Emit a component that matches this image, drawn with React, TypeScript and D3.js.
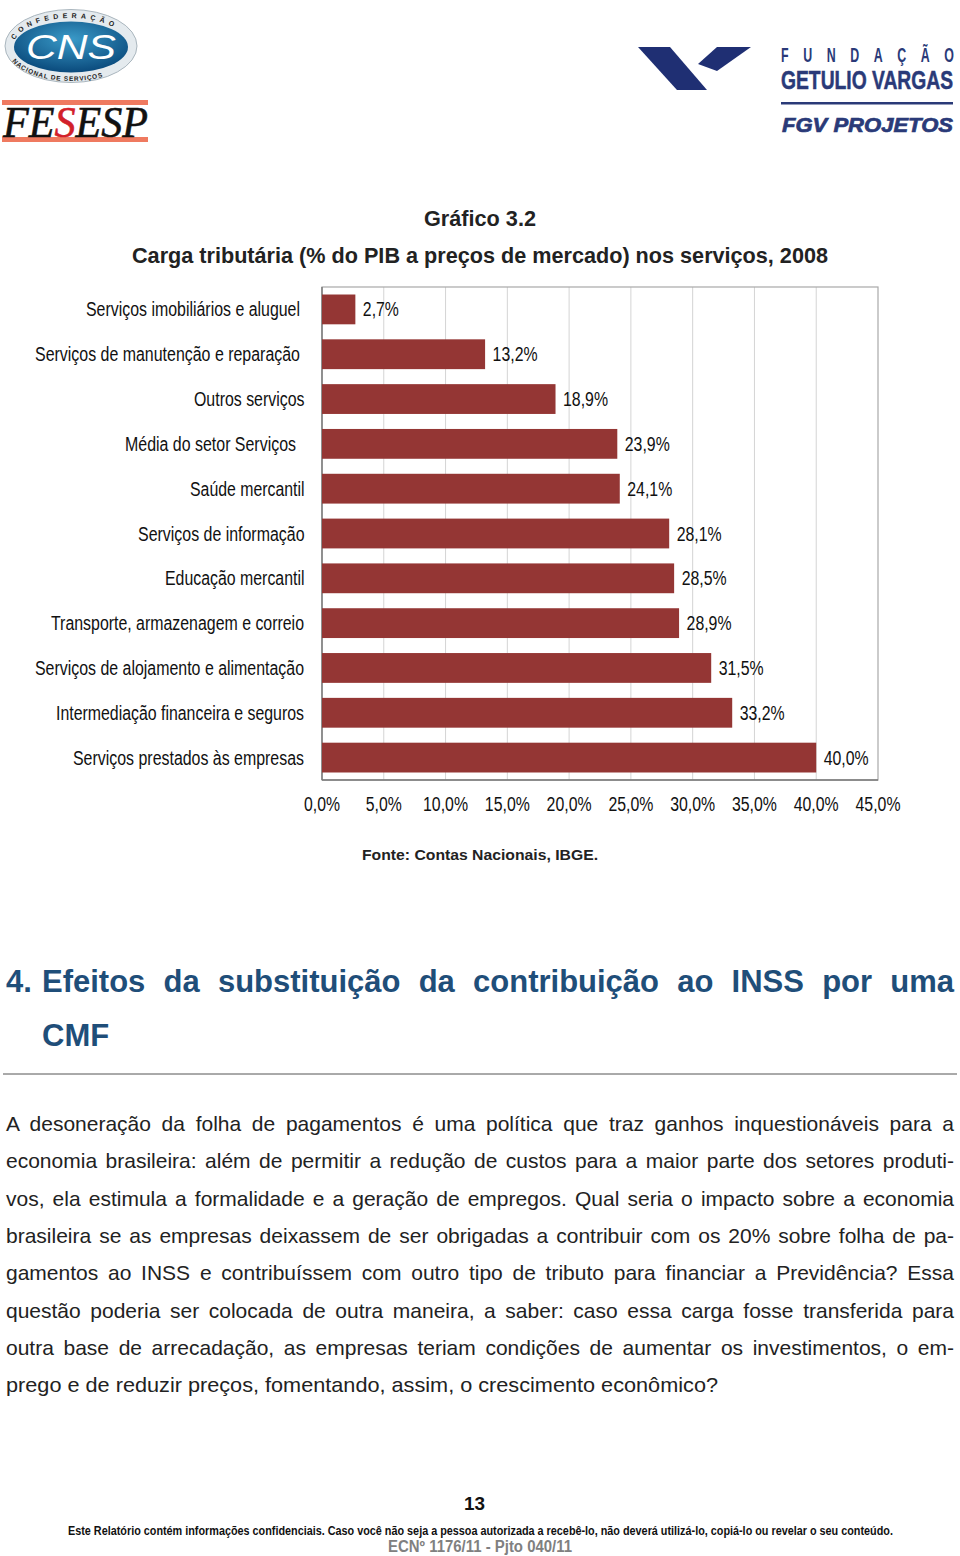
import React, { useLayoutEffect, useRef } from "react";
import * as d3 from "d3";

const categories = [
  "Serviços imobiliários e aluguel",
  "Serviços de manutenção e reparação",
  "Outros serviços",
  "Média do setor Serviços",
  "Saúde mercantil",
  "Serviços de informação",
  "Educação mercantil",
  "Transporte, armazenagem e correio",
  "Serviços de alojamento e alimentação",
  "Intermediação financeira e seguros",
  "Serviços prestados às empresas",
];
const values = [2.7, 13.2, 18.9, 23.9, 24.1, 28.1, 28.5, 28.9, 31.5, 33.2, 40.0];
const ticks = [0, 5, 10, 15, 20, 25, 30, 35, 40, 45];
const labelEnds = [300, 300, 304.5, 296, 304.5, 304.5, 304.5, 304, 304, 304, 304];
const labelStarts = [86, 35, 194, 125, 190, 138, 165, 51, 35, 56, 73];

const bodyLines = [
  "A desoneração da folha de pagamentos é uma política que traz ganhos inquestionáveis para a",
  "economia brasileira: além de permitir a redução de custos para a maior parte dos setores produti-",
  "vos, ela estimula a formalidade e a geração de empregos. Qual seria o impacto sobre a economia",
  "brasileira se as empresas deixassem de ser obrigadas a contribuir com os 20% sobre folha de pa-",
  "gamentos ao INSS e contribuíssem com outro tipo de tributo para financiar a Previdência? Essa",
  "questão poderia ser colocada de outra maneira, a saber: caso essa carga fosse transferida para",
  "outra base de arrecadação, as empresas teriam condições de aumentar os investimentos, o em-",
];
const bodyBaselines = [1131, 1168, 1206, 1243, 1280, 1318, 1355];

const fmt = (v: number) => v.toFixed(1).replace(".", ",") + "%";
const SANS = "'Liberation Sans', Arial, sans-serif";

function Fit({ x, y, w, size, weight, fill, italic, family, stroke, children }: any) {
  return (
    <text x={x} y={y} textLength={w} lengthAdjust="spacingAndGlyphs" fontSize={size} fontWeight={weight || 400}
      fontStyle={italic ? "italic" : "normal"} fill={fill || "#111"} fontFamily={family || SANS}
      stroke={stroke ? fill : undefined} strokeWidth={stroke || undefined}>
      {children}
    </text>
  );
}

export default function App() {
  const ref = useRef<SVGSVGElement>(null);
  useLayoutEffect(() => {
    if (!ref.current) return;
    d3.select(ref.current).selectAll<SVGTextElement, unknown>("text.just").each(function () {
      this.removeAttribute("word-spacing");
      const target = +(this.getAttribute("data-w") || 0);
      const s = this.textContent || "";
      const gaps = s.split(" ").length - 1;
      const len = this.getComputedTextLength();
      this.setAttribute("word-spacing", String((target - len) / gaps));
    });
  }, []);

  const x = d3.scaleLinear().domain([0, 45]).range([322, 878]);
  const y = d3.scaleBand<string>().domain(categories).range([287, 780]).paddingInner(0.335).paddingOuter(0.1675);
  const plotTop = 287, plotBottom = 780;
  const navy = "#2a3a78";

  return (
    <svg ref={ref} width={960} height={1556} viewBox="0 0 960 1556"
      style={{ position: "absolute", left: 0, top: 0, background: "#fff" }}>
      <defs>
        <radialGradient id="cnsBlue" cx="50%" cy="35%" r="65%">
          <stop offset="0%" stopColor="#3a9ac8" />
          <stop offset="100%" stopColor="#0a4a7c" />
        </radialGradient>
        <path id="cnsTop" d="M 13 47 A 58 29 0 0 1 129 47" />
        <path id="cnsBottom" d="M 8 50 A 63 31 0 0 0 134 50" />
      </defs>

      {/* CNS logo */}
      <ellipse cx={71} cy={46} rx={66} ry={36.5} fill="#e4eaee" stroke="#aab6be" />
      <ellipse cx={71} cy={47} rx={57} ry={25.5} fill="url(#cnsBlue)" />
      <text fontSize={7} fontFamily={SANS} fontWeight={700} fill="#222" letterSpacing={4.2}>
        <textPath href="#cnsTop" startOffset="5%">CONFEDERAÇÃO</textPath>
      </text>
      <text fontSize={6.5} fontFamily={SANS} fontWeight={700} fill="#222" letterSpacing={0.8}>
        <textPath href="#cnsBottom" startOffset="8%">NACIONAL DE SERVIÇOS</textPath>
      </text>
      <Fit x={26} y={59} w={90} size={35} italic fill="#fff">CNS</Fit>

      {/* FESESP logo */}
      <rect x={2} y={100} width={146} height={5} fill="#ef7a60" />
      <rect x={2} y={137} width={146} height={5} fill="#ef7a60" />
      <Fit x={3} y={137} w={145} size={44} weight={400} italic fill="#111" stroke={0.6} family="'Liberation Serif', serif">
        FE<tspan fill="#d2202a" stroke="#d2202a">S</tspan>ESP
      </Fit>

      {/* FGV logo */}
      <path d="M638 47 L670 47 L707 90 L677 90 Z" fill="#1f2f73" />
      <path d="M698 64 L717 47 L751 47 L717 71 Z" fill="#1f2f73" />
      <text transform="translate(781,62) scale(0.62,1)" fontSize={20} fontWeight={700} fill={navy} fontFamily={SANS}
        textLength={279} lengthAdjust="spacing">FUNDAÇÃO</text>
      <text transform="translate(781,89) scale(0.72,1)" fontSize={26} fontWeight={700} fill={navy} stroke={navy} strokeWidth={0.5}
        fontFamily={SANS} textLength={239} lengthAdjust="spacingAndGlyphs">GETULIO VARGAS</text>
      <rect x={781} y={102} width={172} height={2.5} fill={navy} />
      <Fit x={782} y={132} w={171} size={21} weight={700} italic fill={navy} stroke={0.7}>FGV PROJETOS</Fit>

      {/* Titles */}
      <Fit x={424} y={226} w={112} size={21.5} weight={700} fill="#222">Gráfico 3.2</Fit>
      <Fit x={132} y={263} w={696} size={21.5} weight={700} fill="#222">Carga tributária (% do PIB a preços de mercado) nos serviços, 2008</Fit>

      {/* Plot */}
      {ticks.slice(1, -1).map((t) => (
        <line key={t} x1={x(t)} x2={x(t)} y1={plotTop} y2={plotBottom} stroke="#d4d4d4" strokeWidth={1} />
      ))}
      <rect x={322} y={plotTop} width={556} height={plotBottom - plotTop} fill="none" stroke="#a8a8a8" strokeWidth={1.2} />
      <line x1={322} x2={322} y1={plotTop} y2={plotBottom} stroke="#777" strokeWidth={1.4} />
      <line x1={322} x2={878} y1={plotBottom} y2={plotBottom} stroke="#777" strokeWidth={1.4} />

      {categories.map((c, i) => {
        const by = y(c)!;
        const cy = by + y.bandwidth() / 2;
        return (
          <g key={c}>
            <rect x={x(0)} y={by} width={x(values[i]) - x(0)} height={y.bandwidth()} fill="#943634" />
            <Fit x={labelStarts[i]} y={cy + 7} w={labelEnds[i] - labelStarts[i]} size={19.5} fill="#111">{c}</Fit>
            <Fit x={x(values[i]) + 7.5} y={cy + 7} w={values[i] < 10 ? 36 : 45} size={19.5} fill="#111">{fmt(values[i])}</Fit>
          </g>
        );
      })}
      {ticks.map((t) => {
        const w = t < 10 ? 36 : 45;
        return <Fit key={t} x={x(t) - w / 2} y={811} w={w} size={19.5}>{fmt(t)}</Fit>;
      })}

      <Fit x={362} y={860} w={236} size={15} weight={700} fill="#222">Fonte: Contas Nacionais, IBGE.</Fit>

      {/* Section heading */}
      <text x={6} y={992} fontSize={31} fontWeight={700} fill="#1f4e79" fontFamily={SANS}>4.</text>
      <text className="just" data-w={912} x={42} y={992} fontSize={31} fontWeight={700} fill="#1f4e79" fontFamily={SANS}>
        Efeitos da substituição da contribuição ao INSS por uma
      </text>
      <text x={42} y={1046} fontSize={31} fontWeight={700} fill="#1f4e79" fontFamily={SANS}>CMF</text>
      <line x1={3} x2={957} y1={1074} y2={1074} stroke="#555" strokeWidth={1} />

      {/* Body */}
      {bodyLines.map((l, i) => (
        <text key={i} className="just" data-w={948} x={6} y={bodyBaselines[i]} fontSize={21} fill="#222" fontFamily={SANS}>{l}</text>
      ))}
      <Fit x={6} y={1392} w={712} size={21} fill="#222">prego e de reduzir preços, fomentando, assim, o crescimento econômico?</Fit>

      {/* Footer */}
      <Fit x={464} y={1510} w={21} size={19} weight={700} fill="#111">13</Fit>
      <text transform="translate(68,1535) scale(0.82,1)" fontSize={12.5} fontWeight={700} fill="#111" fontFamily={SANS}
        textLength={1006} lengthAdjust="spacingAndGlyphs">
        Este Relatório contém informações confidenciais.  Caso você não seja a pessoa autorizada a recebê-lo, não deverá utilizá-lo, copiá-lo ou revelar o seu conteúdo.
      </text>
      <Fit x={388} y={1552} w={184} size={16} weight={700} fill="#808080">ECNº 1176/11 - Pjto 040/11</Fit>
    </svg>
  );
}
